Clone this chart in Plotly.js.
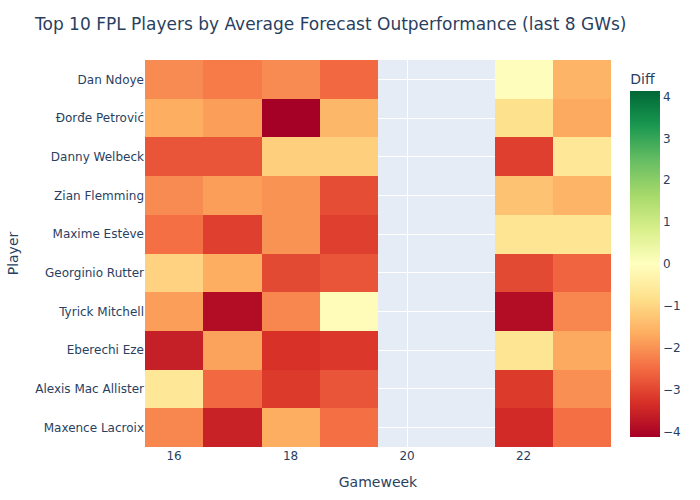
<!DOCTYPE html>
<html>
<head>
<meta charset="utf-8">
<script src="https://cdn.plot.ly/plotly-3.0.1.min.js"></script>
<style>html,body{margin:0;padding:0;background:#fff;}#chart{width:700px;height:500px;}</style>
</head>
<body>
<div id="chart"></div>
<script>
// Gameweeks (20 and 21 have no data)
const gameweeks = [16, 17, 18, 19, 20, 21, 22, 23];
// Players, top to bottom as displayed
const players = [
  "Dan Ndoye", "Đorđe Petrović", "Danny Welbeck", "Zian Flemming", "Maxime Estève",
  "Georginio Rutter", "Tyrick Mitchell", "Eberechi Eze", "Alexis Mac Allister", "Maxence Lacroix"
];
// Diff per player per gameweek (null = no data)
const danNdoye        = [-2.10, -2.30, -2.10, -2.55, null, null, -0.05, -1.55];
const dordePetrovic   = [-1.65, -1.85, -4.13, -1.50, null, null, -0.80, -1.70];
const dannyWelbeck    = [-2.80, -2.80, -1.10, -1.10, null, null, -3.10, -0.65];
const zianFlemming    = [-2.10, -1.85, -2.00, -2.90, null, null, -1.30, -1.55];
const maximeEsteve    = [-2.45, -3.10, -2.00, -3.10, null, null, -0.70, -0.70];
const georginioRutter = [-1.05, -1.65, -2.95, -2.80, null, null, -2.95, -2.60];
const tyrickMitchell  = [-1.85, -3.90, -2.15, -0.10, null, null, -3.90, -2.15];
const eberechiEze     = [-3.60, -1.80, -3.28, -3.20, null, null, -0.70, -1.70];
const alexisMacAllister = [-0.65, -2.55, -3.15, -2.80, null, null, -3.15, -2.05];
const maxenceLacroix  = [-2.15, -3.55, -1.65, -2.45, null, null, -3.40, -2.45];

const zRows = [danNdoye, dordePetrovic, dannyWelbeck, zianFlemming, maximeEsteve,
  georginioRutter, tyrickMitchell, eberechiEze, alexisMacAllister, maxenceLacroix];

const rdYlGnColors = ['rgb(165,0,38)', 'rgb(215,48,39)', 'rgb(244,109,67)', 'rgb(253,174,97)',
  'rgb(254,224,139)', 'rgb(255,255,191)', 'rgb(217,239,139)', 'rgb(166,217,106)',
  'rgb(102,189,99)', 'rgb(26,152,80)', 'rgb(0,104,55)'];
const colorscale = rdYlGnColors.map((c, i) => [i / (rdYlGnColors.length - 1), c]);

const trace = {
  type: 'heatmap',
  x: gameweeks,
  y: players,
  z: zRows,
  colorscale: colorscale,
  zmid: 0,
  colorbar: {title: {text: 'Diff'}, outlinewidth: 0},
  hoverongaps: false
};

const layout = {
  width: 700,
  height: 500,
  font: {family: '"DejaVu Sans", verdana, arial, sans-serif', size: 12, color: '#2a3f5f'},
  title: {text: 'Top 10 FPL Players by Average Forecast Outperformance (last 8 GWs)', x: 0.05, xanchor: 'left', font: {size: 17}},
  paper_bgcolor: '#ffffff',
  plot_bgcolor: '#E5ECF6',
  margin: {t: 60, b: 51, l: 145, r: 87},
  xaxis: {title: {text: 'Gameweek', standoff: 15}, gridcolor: 'white', zeroline: false, ticks: '', automargin: true},
  yaxis: {title: {text: 'Player', standoff: 13}, autorange: 'reversed', gridcolor: 'white', ticks: '', automargin: true}
};

Plotly.newPlot('chart', [trace], layout, {displayModeBar: false});
</script>
</body>
</html>
